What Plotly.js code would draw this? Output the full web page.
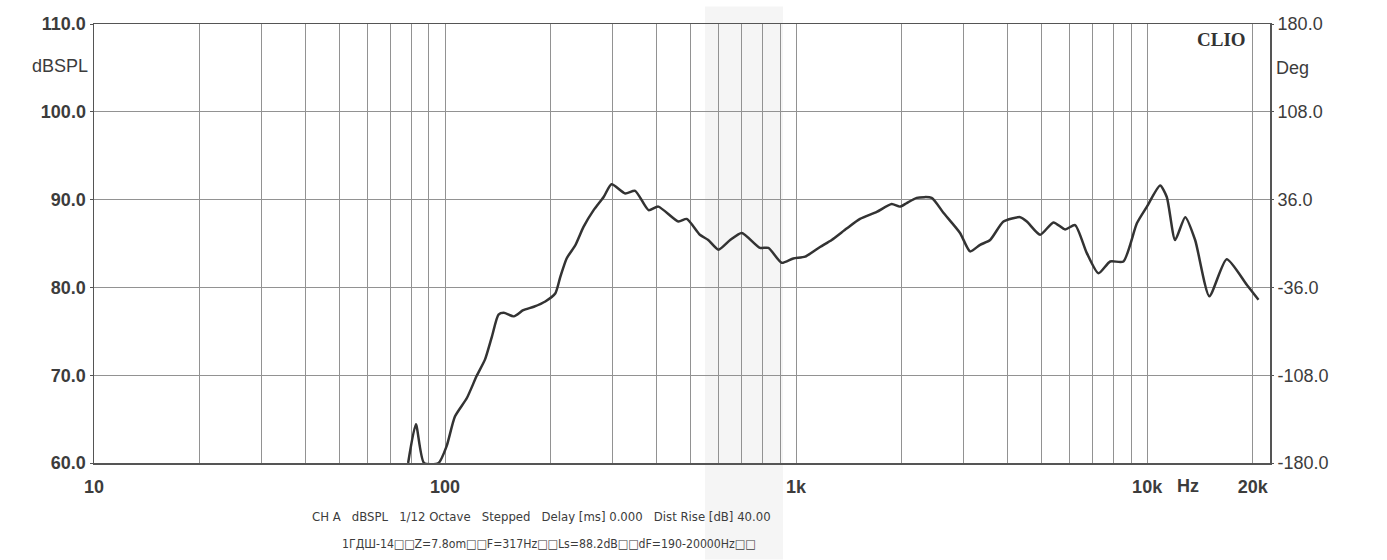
<!DOCTYPE html>
<html><head><meta charset="utf-8">
<script src="https://cdn.plot.ly/plotly-3.0.1.min.js"></script>
<style>html,body{margin:0;padding:0;background:#fff}#chart{width:1387px;height:560px}</style>
</head><body><div id="chart"></div>
<script>
// Frequency response (Hz, dBSPL)
const freqHz = [78.5, 82.6, 87.1, 95.8, 101, 106.7, 115.4, 123, 130, 136, 142, 147, 157, 167, 179, 193, 206, 213, 222, 235, 248, 265, 283, 298, 326, 348, 380, 405, 462, 488, 532, 562, 601, 649, 700, 789, 834, 910, 982, 1061, 1170, 1263, 1393, 1521, 1697, 1872, 1976, 2066, 2206, 2433, 2628, 2931, 3131, 3343, 3571, 3897, 4349, 4543, 4956, 5408, 5838, 6234, 6733, 7266, 7848, 8559, 9349, 9986, 10891, 11375, 12014, 12836, 13700, 15040, 16850, 19220, 20760];
const splDb = [60, 64.4, 60, 60, 61.9, 65.3, 67.4, 69.9, 71.8, 74.4, 76.9, 77.1, 76.7, 77.4, 77.8, 78.4, 79.3, 81.2, 83.3, 84.8, 86.9, 88.8, 90.3, 91.75, 90.7, 91.0, 88.8, 89.2, 87.5, 87.8, 86.0, 85.4, 84.3, 85.4, 86.2, 84.5, 84.5, 82.8, 83.3, 83.5, 84.6, 85.4, 86.7, 87.8, 88.6, 89.5, 89.2, 89.6, 90.2, 90.2, 88.5, 86.2, 84.1, 84.85, 85.4, 87.5, 88.0, 87.5, 86.0, 87.4, 86.6, 87.1, 83.9, 81.6, 82.95, 82.95, 87.3, 89.2, 91.6, 90.3, 85.4, 88.0, 85.4, 79.0, 83.2, 80.3, 78.6];

// Axis ticks
const xGridVals = [10,20,30,40,50,60,70,80,90,100,200,300,400,500,600,700,800,900,1000,2000,3000,4000,5000,6000,7000,8000,9000,10000,20000];
const xLabelMap = {10:'10',100:'100',1000:'1k',10000:'10k',20000:'20k'};
const yLeftVals = [60,70,80,90,100,110];
const yRightVals = [-180,-108,-36,36,108,180];
const headerText = 'CH A   dBSPL   1/12 Octave   Stepped   Delay [ms] 0.000   Dist Rise [dB] 40.00';
const infoText = '1ГДШ-14□□Z=7.8om□□F=317Hz□□Ls=88.2dB□□dF=190-20000Hz□□';

const axisFont = {family:'Liberation Sans, Arial, sans-serif', size:18, color:'#3c3c3c'};
const boldFont = Object.assign({}, axisFont, {weight:'bold'});
const narrowFont = {family:'DejaVu Sans Condensed, Liberation Sans Narrow, Liberation Sans, sans-serif', size:13, color:'#3c3c3c'};

const traces = [
  {x:freqHz, y:splDb, type:'scatter', mode:'lines',
   line:{color:'#333333', width:2.5, shape:'spline', smoothing:0.6},
   hoverinfo:'x+y', showlegend:false},
  {x:[freqHz[0]], y:[yRightVals[0]], yaxis:'y2', type:'scatter', mode:'none', showlegend:false, hoverinfo:'skip'}
];

const layout = {
  width:1387, height:560,
  margin:{l:94, r:117, t:24, b:97},
  paper_bgcolor:'#ffffff', plot_bgcolor:'rgba(0,0,0,0)',
  showlegend:false,
  xaxis:{type:'log', range:[1, 4.35], tickvals:xGridVals,
    ticktext:xGridVals.map(v => xLabelMap[v] || ''),
    showgrid:true, gridcolor:'#929292', gridwidth:1, griddash:'solid',
    showline:true, linecolor:'#555', linewidth:1.5, mirror:true,
    ticks:'outside', ticklen:7, tickcolor:'rgba(0,0,0,0)', tickfont:boldFont, zeroline:false},
  yaxis:{range:[60,110], tickvals:yLeftVals, ticktext:yLeftVals.map(v => v.toFixed(1)),
    showgrid:true, gridcolor:'#929292', gridwidth:1, griddash:'solid',
    showline:true, linecolor:'#555', linewidth:1.5, mirror:true,
    ticks:'outside', ticklen:3, tickcolor:'#555', tickfont:boldFont, zeroline:false},
  yaxis2:{overlaying:'y', side:'right', range:[-180,180], tickvals:yRightVals,
    ticktext:yRightVals.map(v => v.toFixed(1)), showgrid:false, zeroline:false,
    ticks:'outside', ticklen:3, tickcolor:'#555', tickfont:axisFont, showline:false},
  shapes:[
    {type:'rect', xref:'paper', yref:'paper', x0:(705-94)/1176, x1:(783-94)/1176, y0:-0.22, y1:1.04,
     fillcolor:'rgba(200,200,200,0.18)', line:{width:0}, layer:'below'}
  ],
  annotations:[
    {xref:'paper', yref:'paper', x:-0.003, y:0.905, xanchor:'right', yanchor:'middle', text:'dBSPL', showarrow:false, font:axisFont},
    {xref:'paper', yref:'paper', x:1.003, y:0.9, xanchor:'left', yanchor:'middle', text:'Deg', showarrow:false, font:axisFont},
    {xref:'paper', yref:'paper', x:(1188-94)/1176, y:-0.052, xanchor:'center', yanchor:'middle', text:'Hz', showarrow:false, font:boldFont},
    {xref:'paper', yref:'paper', x:(1221-94)/1176, y:0.965, xanchor:'center', yanchor:'middle', text:'<b>CLIO</b>', showarrow:false, font:{family:'Liberation Serif, DejaVu Serif, serif', size:19, color:'#333'}},
    {xref:'paper', yref:'paper', x:(541-94)/1176, y:-0.121, xanchor:'center', yanchor:'middle', text:headerText, showarrow:false, font:narrowFont},
    {xref:'paper', yref:'paper', x:(549-94)/1176, y:-0.184, xanchor:'center', yanchor:'middle', text:infoText, showarrow:false, font:Object.assign({}, narrowFont, {size:12.2})}
  ]
};

Plotly.newPlot('chart', traces, layout, {staticPlot:true, displayModeBar:false});
</script></body></html>
